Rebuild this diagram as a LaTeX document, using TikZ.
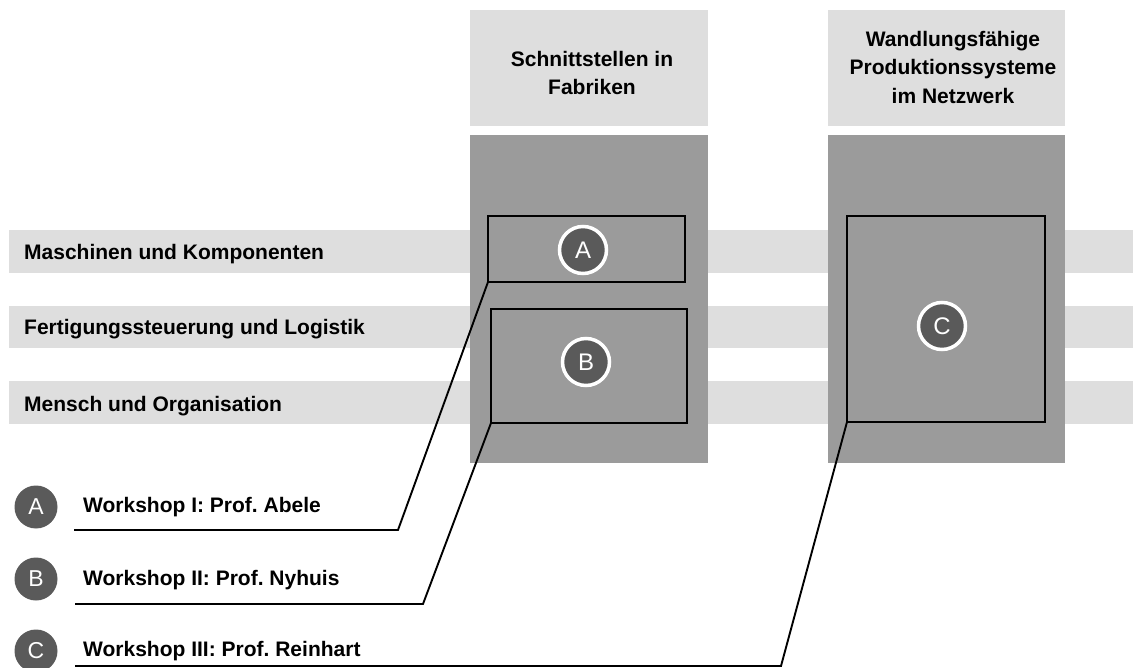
\documentclass[tikz,border=0pt]{standalone}
\usepackage{fontspec}
\setmainfont{Liberation Sans}
\definecolor{lightg}{HTML}{DEDEDE}
\definecolor{darkg}{HTML}{9B9B9B}
\definecolor{circg}{HTML}{5A5A5A}
\begin{document}
\frenchspacing
\begin{tikzpicture}[x=1pt,y=-1pt,
  column/.style={fill=darkg, draw=none, inner sep=0, outer sep=0, minimum height=328pt},
  header/.style={fill=lightg, draw=none, inner sep=0, outer sep=0, minimum height=116pt},
  headtext/.style={align=center, inner sep=0, font=\fontsize{21}{28.5}\selectfont\bfseries},
  wbox/.style={draw=black, line width=2.2pt, inner sep=0, outer sep=0},
  badge/.style={circle, fill=circg, draw=white, line width=3.5pt, minimum size=47pt, inner sep=0, text=white, font=\fontsize{24}{24}\selectfont},
  legbadge/.style={circle, fill=circg, draw=none, minimum size=43pt, inner sep=0, text=white, font=\fontsize{23}{23}\selectfont},
  rowlabel/.style={anchor=base west, inner sep=0, font=\fontsize{21}{25}\selectfont\bfseries},
  leader/.style={draw=black, line width=1.9pt, line join=miter}
]
\useasboundingbox (0,0) rectangle (1133,668);
% bands
\fill[lightg] (9,230) rectangle (1133,273);
\fill[lightg] (9,306) rectangle (1133,348);
\fill[lightg] (9,381) rectangle (1133,424);
% row labels
\node[rowlabel] (r1) at (24,260) {Maschinen und Komponenten};
\node[rowlabel] (r2) at (24,335) {Fertigungssteuerung und Logistik};
\node[rowlabel] (r3) at (24,411) {Mensch und Organisation};
% headers
\node[header, minimum width=238pt] (h1) at (589,68) {};
\node[header, minimum width=237pt] (h2) at (946.5,68) {};
\node[headtext] (h1t) at (592,73) {Schnittstellen in\\Fabriken};
\node[headtext] (h2t) at (953,67) {Wandlungsfähige\\Produktionssysteme\\im Netzwerk};
% columns
\node[column, minimum width=238pt] (c1) at (589,299) {};
\node[column, minimum width=237pt] (c2) at (946.5,299) {};
% workshop boxes
\node[wbox, minimum width=197pt, minimum height=66pt] (bA) at (586.5,249) {};
\node[wbox, minimum width=196pt, minimum height=114pt] (bB) at (589,366) {};
\node[wbox, minimum width=198pt, minimum height=206pt] (bC) at (946,319) {};
% badges
\node[badge] (cA) at (583,250) {A};
\node[badge] (cB) at (586,362) {B};
\node[badge] (cC) at (942,326) {C};
% legend
\node[legbadge] (lA) at (36,507) {A};
\node[legbadge] (lB) at (36,579) {B};
\node[legbadge] (lC) at (36,651) {C};
\node[rowlabel] (tA) at (83,512) {Workshop I: Prof. Abele};
\node[rowlabel] (tB) at (83,585) {Workshop II: Prof. Nyhuis};
\node[rowlabel] (tC) at (83,656) {Workshop III: Prof. Reinhart};
% leader lines
\coordinate (kA) at (398,530); \coordinate (eA) at (74,530);
\coordinate (kB) at (423,604); \coordinate (eB) at (75,604);
\coordinate (kC) at (781,666); \coordinate (eC) at (75,666);
\draw[leader] (bA.south west) -- (kA) -- (eA);
\draw[leader] (bB.south west) -- (kB) -- (eB);
\draw[leader] (bC.south west) -- (kC) -- (eC);
\end{tikzpicture}
\end{document}
